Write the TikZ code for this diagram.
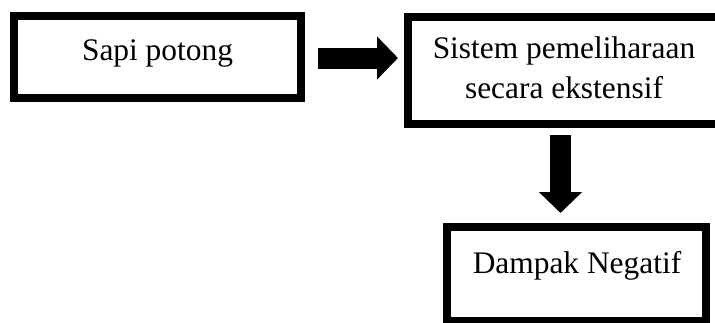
\documentclass[tikz,border=0pt]{standalone}
\usepackage{fontspec}
\setmainfont{Liberation Serif}
\usetikzlibrary{arrows.meta}

\begin{document}
\begin{tikzpicture}[
    x=1pt, y=-1pt,
    box/.style={rectangle, draw, line width=8pt, inner sep=0pt},          % Style for the thick frames
    txt/.style={font=\fontsize{31.4}{40}\selectfont, align=center, inner sep=0pt}, % Style for the texts
    blockarrow/.style={line width=21pt, -{Triangle[length=21pt, width=42pt]}}     % Style for the block arrows
    ]
    \useasboundingbox (0,0) rectangle (715,322);
    \clip (0,0) rectangle (715,322);

    % Frames
    \node[box, minimum width=287pt, minimum height=82pt] (sapi) at (157.5,57) {};
    \node[box, minimum width=312pt, minimum height=107pt] (sistem) at (564,70.5) {};
    \node[box, minimum width=259pt, minimum height=94pt] (dampak) at (576.5,274) {};

    % Texts in the frames (base = last line)
    \node[txt, anchor=base] (sapitxt) at (157.5,60) {Sapi potong};
    \node[txt, anchor=base] (sistemtxt) at (564,98) {Sistem pemeliharaan\\secara ekstensif};
    \node[txt, anchor=base] (dampaktxt) at (577,273) {Dampak Negatif};

    % Block arrows between the frames
    \coordinate (gap) at (sapi.east -| sistem.west);
    \coordinate (drop) at (sistem.south |- dampak.north);
    \draw[blockarrow] ([shift={(13,1)}]sapi.east) -- ([shift={(-6,1)}]gap);
    \draw[blockarrow] ([shift={(-3.5,7)}]sistem.south) -- ([shift={(-3.5,-10)}]drop);

\end{tikzpicture}
\end{document}
